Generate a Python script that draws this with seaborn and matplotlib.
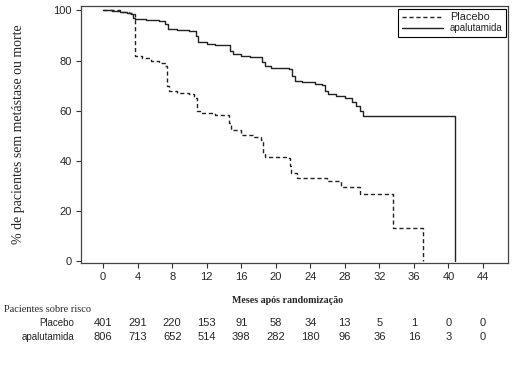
import numpy as np
import pandas as pd
import matplotlib
matplotlib.use("Agg")
from matplotlib import pyplot as plt
from matplotlib import transforms
from matplotlib.lines import Line2D
import seaborn as sns

# curvas de Kaplan-Meier (meses, % sem metastase ou morte)
apa_t = [0, 1.0, 2.0, 2.8, 3.2, 3.5, 3.7, 5.0, 6.5, 7.2, 7.5, 8.5, 10.0, 10.8, 11.0,
         12.0, 13.0, 14.7, 15.0, 16.0, 17.0, 18.4, 18.8, 19.5, 21.5, 21.9, 22.2, 23.0,
         24.5, 25.3, 25.7, 26.0, 27.0, 28.0, 28.8, 29.3, 29.7, 30.1, 40.8]
apa_s = [100, 99.8, 99.5, 99.2, 98.5, 97.0, 96.5, 96.2, 96.0, 94.5, 92.7, 92.3, 92.0, 90.0, 87.5,
         86.7, 86.2, 84.0, 82.5, 81.8, 81.3, 79.5, 78.0, 77.0, 76.5, 74.0, 72.0, 71.3,
         70.7, 70.3, 68.0, 66.5, 66.0, 65.3, 63.5, 62.0, 60.0, 57.8, 0]
pla_t = [0, 2.0, 3.0, 3.5, 3.65, 4.5, 5.5, 6.5, 7.2, 7.4, 7.6, 8.5, 10.0, 10.5, 10.9,
         11.2, 13.0, 14.6, 14.8, 16.0, 17.5, 18.3, 18.5, 18.8, 21.4, 21.6, 21.8, 22.5,
         25.9, 27.6, 29.7, 33.6, 37.1]
pla_s = [100, 99.5, 99.0, 98.5, 82.0, 81.0, 80.0, 79.0, 78.0, 70.0, 68.0, 67.0, 66.5, 65.0, 60.0,
         59.0, 58.5, 55.0, 52.5, 50.5, 49.5, 48.5, 43.0, 41.7, 41.3, 38.0, 35.0, 33.0,
         32.0, 29.8, 27.0, 13.3, 0]

risk_months = [0, 4, 8, 12, 16, 20, 24, 28, 32, 36, 40, 44]
risk_placebo = [401, 291, 220, 153, 91, 58, 34, 13, 5, 1, 0, 0]
risk_apa = [806, 713, 652, 514, 398, 282, 180, 96, 36, 16, 3, 0]
groups = ["Placebo", "apalutamida"]

df = pd.concat([
    pd.DataFrame({"meses": pla_t, "surv": pla_s, "grupo": "Placebo"}),
    pd.DataFrame({"meses": apa_t, "surv": apa_s, "grupo": "apalutamida"}),
])

sns.set_theme(style="ticks")
plt.rcParams["font.family"] = ["Liberation Sans", "DejaVu Sans"]
serif = ["Liberation Serif", "DejaVu Serif"]

fig = plt.figure(figsize=(5.25, 3.65), dpi=100)
ax = fig.add_axes([0.1537, 0.2795, 0.8139, 0.7041])

sns.lineplot(data=df, x="meses", y="surv", style="grupo", style_order=groups,
             dashes=[(3, 2), ""], color="#222222", linewidth=1.0,
             estimator=None, sort=False, drawstyle="steps-post", ax=ax, legend=False)

ax.set_xlim(-2.6, 46.9)
ax.set_ylim(-0.7, 101.8)
ax.set_xticks(risk_months)
ax.set_yticks([0, 20, 40, 60, 80, 100])
ax.tick_params(labelsize=8, length=3.5, width=0.8, color="#333333", pad=3)
for sp in ax.spines.values():
    sp.set_visible(True)
    sp.set_color("#444444")
    sp.set_linewidth(0.9)

ax.set_xlabel("Meses após randomização", family=serif, fontweight="bold", fontsize=7.2)
ax.xaxis.set_label_coords(0.483, -0.13)
ax.set_ylabel("% de pacientes sem metástase ou morte", family=serif, fontsize=10)
ax.yaxis.set_label_coords(-0.13, 0.5)

# legenda
handles = [Line2D([], [], color="#222222", lw=1.0, dashes=(3, 2)),
           Line2D([], [], color="#222222", lw=1.0)]
leg = ax.legend(handles, groups, loc="upper right", bbox_to_anchor=(0.995, 0.988),
                borderaxespad=0, fancybox=False, edgecolor="black", framealpha=1,
                fontsize=7.8, handlelength=3.8, labelspacing=0.1, borderpad=0.3,
                handletextpad=0.65)
leg.get_frame().set_linewidth(0.8)
leg.get_texts()[1].set_fontsize(7)

# tabela de pacientes em risco
tr = transforms.blended_transform_factory(ax.transData, fig.transFigure)
fig.text(0.008, 0.153, "Pacientes sobre risco", family=serif, fontsize=7.5, va="center")
fig.text(0.141, 0.115, "Placebo", fontsize=7, ha="right", va="center")
fig.text(0.141, 0.077, "apalutamida", fontsize=7, ha="right", va="center")
for m, p, a in zip(risk_months, risk_placebo, risk_apa):
    ax.text(m, 0.115, str(p), transform=tr, fontsize=8, ha="center", va="center")
    ax.text(m, 0.077, str(a), transform=tr, fontsize=8, ha="center", va="center")

fig.savefig("out.png", dpi=100)
